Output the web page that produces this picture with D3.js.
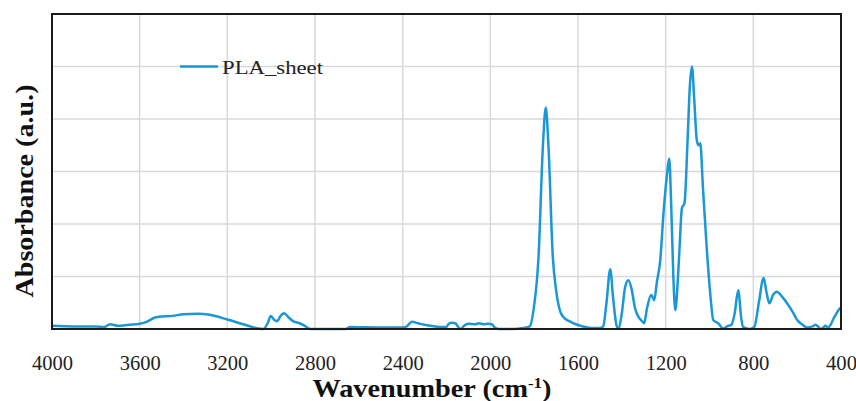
<!DOCTYPE html>
<html>
<head>
<meta charset="utf-8">
<script src="https://cdn.jsdelivr.net/npm/d3@7"></script>
<style>
  body { margin: 0; background: #fff; }
  svg { display: block; }
  .serif { font-family: "Liberation Serif", "DejaVu Serif", serif; }
</style>
</head>
<body>
<svg id="chart" width="856" height="401"></svg>
<script>
// FTIR spectrum (wavenumber in cm-1, absorbance in grid units)
const wavenumbers = [
  4000, 3900, 3800, 3760, 3735, 3700, 3650, 3600, 3566, 3530, 3500, 3450, 3400, 3334, 3280, 3200,
  3120, 3060, 3037, 3015, 3002, 2985, 2974, 2955, 2941, 2920, 2900, 2870, 2850, 2822, 2700, 2660,
  2640, 2500, 2400, 2381, 2358, 2330, 2300, 2270, 2230, 2200, 2190, 2175, 2160, 2145, 2135, 2120,
  2100, 2070, 2050, 2030, 2010, 1993, 1980, 1960, 1900, 1850, 1820, 1803, 1780, 1760, 1747, 1735,
  1715, 1700, 1680, 1667, 1640, 1610, 1580, 1540, 1500, 1485, 1470, 1453, 1440, 1425, 1415, 1400,
  1385, 1370, 1355, 1340, 1324, 1310, 1298, 1285, 1266, 1252, 1240, 1225, 1210, 1195, 1184, 1175,
  1165, 1156, 1145, 1136, 1126, 1114, 1100, 1090, 1080, 1070, 1058, 1050, 1042, 1030, 1012, 995,
  983, 960, 938, 920, 900, 885, 869, 855, 847, 816, 795, 775, 753, 740, 727, 710,
  692, 670, 646, 620, 600, 575, 555, 530, 517, 505, 494, 480, 472, 458, 445, 434,
  420, 406, 400
];
const absorbance = [
  0.06, 0.05, 0.05, 0.04, 0.09, 0.06, 0.08, 0.10, 0.14, 0.22, 0.24, 0.25, 0.28, 0.29, 0.27, 0.18,
  0.08, 0.01, 0.00, 0.12, 0.25, 0.17, 0.15, 0.26, 0.30, 0.22, 0.15, 0.11, 0.07, 0.00, 0.00, 0.00,
  0.04, 0.03, 0.03, 0.05, 0.14, 0.11, 0.08, 0.06, 0.04, 0.04, 0.10, 0.12, 0.11, 0.03, 0.00, 0.06,
  0.10, 0.09, 0.11, 0.09, 0.10, 0.09, 0.03, 0.00, 0.00, 0.02, 0.05, 0.36, 1.38, 3.50, 4.22, 3.50,
  1.38, 0.74, 0.32, 0.23, 0.15, 0.09, 0.05, 0.02, 0.02, 0.05, 0.50, 1.14, 0.60, 0.08, 0.00, 0.30,
  0.80, 0.93, 0.75, 0.40, 0.23, 0.16, 0.11, 0.40, 0.65, 0.55, 0.90, 1.30, 2.20, 2.90, 3.25, 2.40,
  1.00, 0.36, 0.90, 1.60, 2.30, 2.40, 3.60, 4.60, 5.00, 4.40, 3.60, 3.50, 3.54, 2.70, 1.50, 0.60,
  0.17, 0.11, 0.01, 0.05, 0.08, 0.30, 0.74, 0.20, 0.04, 0.00, 0.04, 0.50, 0.97, 0.70, 0.49, 0.65,
  0.71, 0.62, 0.49, 0.32, 0.17, 0.08, 0.03, 0.05, 0.08, 0.05, 0.00, 0.03, 0.06, 0.03, 0.10, 0.20,
  0.30, 0.39, 0.41
];
const xTicks = [4000, 3600, 3200, 2800, 2400, 2000, 1600, 1200, 800, 400];
const yGrid = [0, 1, 2, 3, 4, 5, 6];
const seriesName = "PLA_sheet";

const svg = d3.select("#chart");
const margin = { top: 14, right: 15, bottom: 72, left: 52 };
const width = +svg.attr("width") - margin.left - margin.right;
const height = +svg.attr("height") - margin.top - margin.bottom;
const lineColor = "#1a97d6";
const serif = "Liberation Serif, DejaVu Serif, serif";

const x = d3.scaleLinear().domain([4000, 400]).range([0, width]);
const y = d3.scaleLinear().domain([0, 6]).range([height, 0]);

const g = svg.append("g")
  .attr("transform", `translate(${margin.left},${margin.top})`);

// grid
g.append("g")
  .selectAll("line")
  .data(xTicks)
  .join("line")
  .attr("x1", d => x(d)).attr("x2", d => x(d))
  .attr("y1", 0).attr("y2", height)
  .attr("stroke", "#d9d9d9")
  .attr("stroke-width", 1.5);

g.append("g")
  .selectAll("line")
  .data(yGrid)
  .join("line")
  .attr("x1", 0).attr("x2", width)
  .attr("y1", d => y(d)).attr("y2", d => y(d))
  .attr("stroke", "#d9d9d9")
  .attr("stroke-width", 1.5);

// spectrum
const pts = wavenumbers.map((w, i) => ({ w: w, a: absorbance[i] }));
const line = d3.line()
  .x(d => x(d.w))
  .y(d => y(d.a))
  .curve(d3.curveMonotoneX);

g.append("path")
  .datum(pts)
  .attr("fill", "none")
  .attr("stroke", lineColor)
  .attr("stroke-width", 2.5)
  .attr("stroke-linejoin", "round")
  .attr("d", line);

// frame
g.append("rect")
  .attr("width", width)
  .attr("height", height)
  .attr("fill", "none")
  .attr("stroke", "#1a1a1a")
  .attr("stroke-width", 2);

// x axis labels
const xAxis = g.append("g")
  .attr("transform", `translate(0,${height})`)
  .call(d3.axisBottom(x).tickValues(xTicks).tickSize(0).tickPadding(26).tickFormat(d3.format("d")));
xAxis.attr("font-family", serif).attr("font-size", 21);
xAxis.select(".domain").remove();
xAxis.selectAll("text")
  .attr("font-family", serif)
  .attr("fill", "#222")
  .attr("lengthAdjust", "spacingAndGlyphs")
  .attr("textLength", d => d < 1000 ? 31 : 41);

svg.append("text")
  .attr("font-family", serif)
  .attr("x", 432)
  .attr("y", 397)
  .attr("text-anchor", "middle")
  .attr("font-weight", "bold")
  .attr("font-size", 25)
  .attr("fill", "#111")
  .attr("textLength", 239)
  .attr("lengthAdjust", "spacingAndGlyphs")
  .call(t => {
    t.append("tspan").text("Wavenumber (cm");
    t.append("tspan").attr("dy", -9).attr("font-size", 15).text("-1");
    t.append("tspan").attr("dy", 9).text(")");
  });

svg.append("text")
  .attr("font-family", serif)
  .attr("transform", "translate(33,191) rotate(-90)")
  .attr("text-anchor", "middle")
  .attr("font-weight", "bold")
  .attr("font-size", 25)
  .attr("fill", "#111")
  .attr("textLength", 213)
  .attr("lengthAdjust", "spacingAndGlyphs")
  .text("Absorbance (a.u.)");

// legend
const legend = g.append("g").attr("transform", `translate(128,${y(5)})`);
legend.append("line")
  .attr("x1", 0).attr("x2", 38)
  .attr("stroke", lineColor)
  .attr("stroke-width", 2.5);
legend.append("text")
  .attr("font-family", serif)
  .attr("x", 42)
  .attr("y", 7)
  .attr("font-size", 19)
  .attr("fill", "#222")
  .attr("textLength", 101)
  .attr("lengthAdjust", "spacingAndGlyphs")
  .text(seriesName);
</script>
</body>
</html>
